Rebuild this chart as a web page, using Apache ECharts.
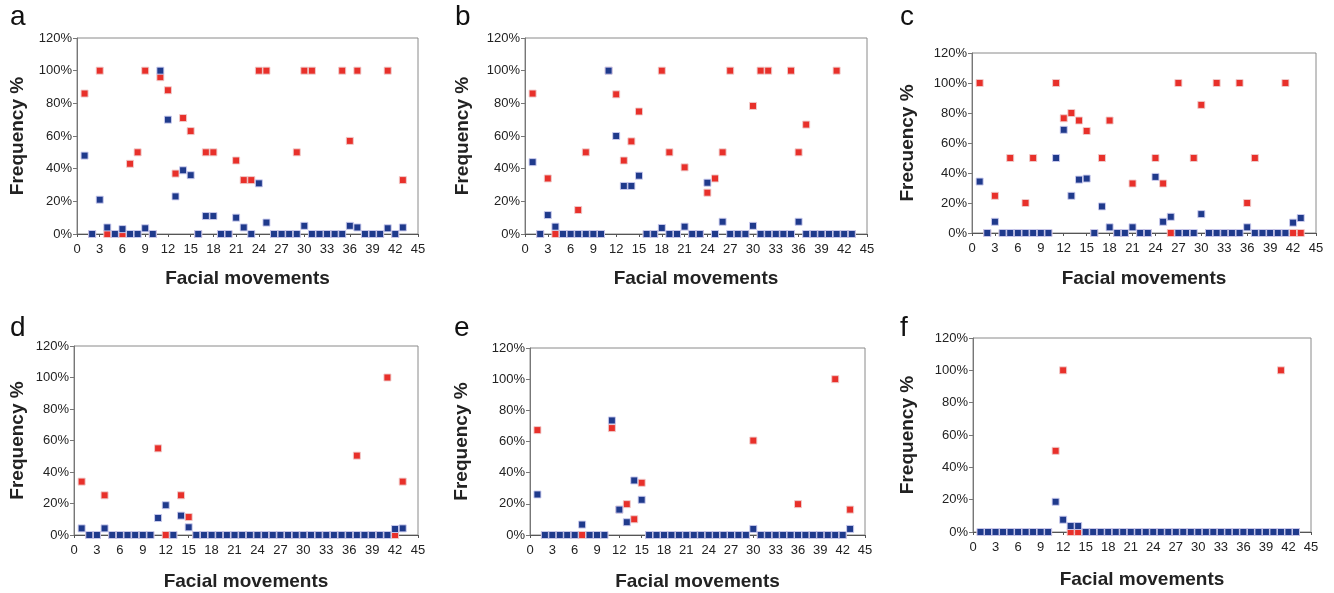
<!DOCTYPE html>
<html><head><meta charset="utf-8">
<script src="https://cdn.jsdelivr.net/npm/echarts@6/dist/echarts.min.js"></script>
<style>html,body{margin:0;padding:0;background:#fff}#c{width:1334px;height:593px}</style>
</head><body><div id="c"></div>
<script>
// x positions: facial movements 1..43
const movements = [1,2,3,4,5,6,7,8,9,10,11,12,13,14,15,16,17,18,19,20,21,22,23,24,25,26,27,28,29,30,31,32,33,34,35,36,37,38,39,40,41,42,43];
const xTicks = [0,3,6,9,12,15,18,21,24,27,30,33,36,39,42,45];
const yTicks = [0,20,40,60,80,100,120];

const aBlue = [48,0,21,4,0,3,0,0,3.5,0,100,70,23,39,36,0,11,11,0,0,10,4,0,31,7,0,0,0,0,5,0,0,0,0,0,5,4,0,0,0,3.5,0,4];
const aRed  = [86,0,100,0,0,0,43,50,100,0,96,88,37,71,63,0,50,50,0,0,45,33,33,100,100,0,0,0,50,100,100,0,0,0,100,57,100,0,0,0,100,0,33];

const bBlue = [44,0,11.6,4.5,0,0,0,0,0,0,100,60,29.4,29.4,35.7,0,0,3.7,0,0,4.5,0,0,31.4,0,7.5,0,0,0,5,0,0,0,0,0,7.5,0,0,0,0,0,0,0];
const bRed  = [86,0,34,0,0,0,14.7,50,0,0,100,85.5,45,56.7,75,0,0,100,50,0,40.8,0,0,25.3,34,50,100,0,0,78.4,100,100,0,0,100,50,67,0,0,0,100,0,0];

const cBlue = [34.3,0,7.5,0,0,0,0,0,0,0,50,68.8,24.8,35.6,36.3,0,17.7,3.8,0,0,3.8,0,0,37.4,7.5,10.8,0,0,0,12.6,0,0,0,0,0,3.8,0,0,0,0,0,6.9,10];
const cRed  = [100,0,24.8,0,50,0,20,50,0,0,100,76.5,80,75,68,0,50,75,0,0,33,0,0,50,33,0,100,0,50,85.4,0,100,0,0,100,20,50,0,0,0,100,0,0];

const dBlue = [4.2,0,0,4.2,0,0,0,0,0,0,10.8,18.9,0,12.3,4.9,0,0,0,0,0,0,0,0,0,0,0,0,0,0,0,0,0,0,0,0,0,0,0,0,0,0,3.8,4.2];
const dRed  = [33.9,0,0,25.2,0,0,0,0,0,0,55,0,0,25.2,11.4,0,0,0,0,0,0,0,0,0,0,0,0,0,0,0,0,0,0,0,0,0,50.4,0,0,0,100,0,33.9];

const eBlue = [26,0,0,0,0,0,6.7,0,0,0,73.5,16.3,8.2,35,22.6,0,0,0,0,0,0,0,0,0,0,0,0,0,0,3.9,0,0,0,0,0,0,0,0,0,0,0,0,3.9];
const eRed  = [67.3,0,0,0,0,0,0,0,0,0,68.6,16.3,19.8,10.1,33.5,0,0,0,0,0,0,0,0,0,0,0,0,0,0,60.6,0,0,0,0,0,19.8,0,0,0,0,100,0,16.3];

const fBlue = [0,0,0,0,0,0,0,0,0,0,18.7,7.6,3.7,3.7,0,0,0,0,0,0,0,0,0,0,0,0,0,0,0,0,0,0,0,0,0,0,0,0,0,0,0,0,0];
const fRed  = [0,0,0,0,0,0,0,0,0,0,50.2,100,0,0,0,0,0,0,0,0,0,0,0,0,0,0,0,0,0,0,0,0,0,0,0,0,0,0,0,0,100,0,0];

const panelLetters = ['a','b','c','d','e','f'];
const yTitles = ['Frequency %','Frequency %','Frecuency %','Frequency %','Frequency %','Frequency %'];
const xTitle = 'Facial movements';

const panels = [
  {blue:aBlue, red:aRed, grid:{left:77, top:38, width:341, height:196}, yGap:49.5, xGap:35.5, letter:[10,3]},
  {blue:bBlue, red:bRed, grid:{left:525, top:38, width:342, height:196}, yGap:52.5, xGap:35.5, letter:[455,3]},
  {blue:cBlue, red:cRed, grid:{left:972, top:53, width:344, height:180}, yGap:54.5, xGap:36.5, letter:[900,3]},
  {blue:dBlue, red:dRed, grid:{left:74, top:346, width:344, height:189}, yGap:46.5, xGap:37.5, letter:[10,314]},
  {blue:eBlue, red:eRed, grid:{left:530, top:348, width:335, height:187}, yGap:58.5, xGap:37.5, letter:[454,314]},
  {blue:fBlue, red:fRed, grid:{left:973, top:338, width:338, height:194}, yGap:55.5, xGap:38.5, letter:[900,314]}
];

const FONT = 'Liberation Sans, Arial, sans-serif';
const RED = '#e8302a', BLUE = '#1f3a8c';
const grids=[], xAxes=[], yAxes=[], series=[], graphics=[];
panels.forEach((p,i)=>{
  grids.push(Object.assign({show:true, borderColor:'#8a8a8a', borderWidth:1, backgroundColor:'#fff'}, p.grid));
  xAxes.push({type:'value', gridIndex:i, min:xTicks[0], max:xTicks[xTicks.length-1], interval:3,
    name:xTitle, nameLocation:'middle', nameGap:p.xGap,
    nameTextStyle:{fontFamily:FONT, fontSize:19, fontWeight:'bold', color:'#222'},
    axisLine:{show:true, onZero:false, lineStyle:{color:'#555', width:1}},
    axisTick:{show:true, length:3, lineStyle:{color:'#555'}},
    axisLabel:{fontFamily:FONT, fontSize:13, color:'#222', margin:9},
    splitLine:{show:false}});
  yAxes.push({type:'value', gridIndex:i, min:yTicks[0], max:yTicks[yTicks.length-1], interval:20,
    name:yTitles[i], nameLocation:'middle', nameGap:p.yGap, nameRotate:90,
    nameTextStyle:{fontFamily:FONT, fontSize:19, fontWeight:'bold', color:'#222'},
    axisLine:{show:true, lineStyle:{color:'#777', width:1}},
    axisTick:{show:true, length:4, lineStyle:{color:'#777'}},
    axisLabel:{fontFamily:FONT, fontSize:13, color:'#222', margin:5, formatter:'{value}%'},
    splitLine:{show:false}});
  series.push({type:'scatter', xAxisIndex:i, yAxisIndex:i, symbol:'rect', symbolSize:7,
    itemStyle:{color:RED, borderColor:'rgba(240,205,205,0.9)', borderWidth:1, opacity:1},
    data:movements.map((m,k)=>[m,p.red[k]]), z:2, silent:true, animation:false});
  series.push({type:'scatter', xAxisIndex:i, yAxisIndex:i, symbol:'rect', symbolSize:7,
    itemStyle:{color:BLUE, borderColor:'rgba(205,205,240,0.9)', borderWidth:1, opacity:1},
    data:movements.map((m,k)=>[m,p.blue[k]]), z:3, silent:true, animation:false});
  graphics.push({type:'text', left:p.letter[0], top:p.letter[1],
    style:{text:panelLetters[i], fontFamily:FONT, fontSize:28, fill:'#111'}});
});

const chart = echarts.init(document.getElementById('c'), null, {renderer:'canvas'});
chart.setOption({animation:false, grid:grids, xAxis:xAxes, yAxis:yAxes, series:series, graphic:graphics});
</script></body></html>
